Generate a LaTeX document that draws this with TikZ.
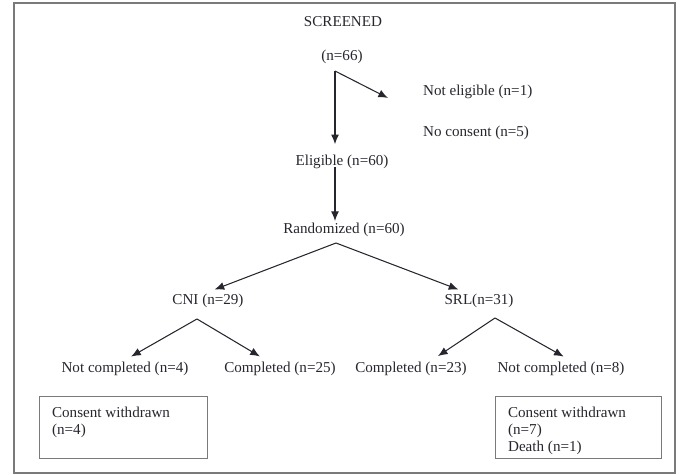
\documentclass[tikz,border=0pt]{standalone}
\usepackage{fontspec}
\setmainfont{Liberation Serif}
\usetikzlibrary{positioning, arrows.meta}
\definecolor{InkDark}  {HTML}{26262E}
\definecolor{FrameGray}{HTML}{7A7A7A}

\tikzset{
  lbl/.style={inner sep=1pt, text=InkDark, font=\fontsize{8.6}{9.6}\selectfont},
  arr/.style={draw=InkDark, line width=0.6pt, -{Latex[length=5.5pt, width=4.5pt]}},
  outbox/.style={draw=FrameGray, line width=0.8pt, minimum width=3.36cm, minimum height=1.24cm, inner sep=0pt}
}

\begin{document}
\begin{tikzpicture}[x=0.02cm, y=-0.02cm]
  \useasboundingbox (0,0) rectangle (680,475);
  \draw[FrameGray, line width=1.1pt] (14,3) rectangle (675,473);

  % screening
  \node[lbl] (scr) at (343,22) {SCREENED};
  \node[lbl] (n66) at (342,57) {(n=66)};
  \coordinate (bend) at (335,71);
  \coordinate (excl) at (388,98);
  \node[lbl, anchor=west] (nelig) at (421,92) {Not eligible (n=1)};
  \node[lbl, anchor=west] (ncons) at (421,133) {No consent (n=5)};
  \node[lbl] (elig) at (342,162) {Eligible (n=60)};
  \node[lbl] (rand) at (344,230) {Randomized (n=60)};

  \draw[arr] (bend) -- (excl);
  \draw[arr, shorten >=5pt] (bend) -- (bend |- elig.north);
  \draw[arr] (elig.south -| bend) ++(0,-4) -- (bend |- rand.north);

  % arms
  \coordinate (rsplit) at (336,243);
  \node[lbl] (cni) at (208,301) {CNI (n=29)};
  \node[lbl] (srl) at (479,301) {SRL(n=31)};
  \draw[arr, shorten >=4pt] (rsplit) -- (cni.north);
  \draw[arr, shorten >=4pt] (rsplit) -- ([xshift=-8pt]srl.north);

  % follow-up
  \coordinate (csplit) at (197,319);
  \coordinate (ssplit) at (495,318);
  \node[lbl] (cnot)  at (125,369) {Not completed (n=4)};
  \node[lbl] (ccomp) at (280,369) {Completed (n=25)};
  \node[lbl] (scomp) at (411,369) {Completed (n=23)};
  \node[lbl] (snot)  at (561,369) {Not completed (n=8)};
  \draw[arr, shorten >=4pt] (csplit) -- (cnot.north);
  \draw[arr, shorten >=4pt] (csplit) -- ([xshift=-8pt]ccomp.north);
  \draw[arr, shorten >=4pt] (ssplit) -- ([xshift=12pt]scomp.north);
  \draw[arr, shorten >=4pt] (ssplit) -- ([xshift=5pt]snot.north);

  % reasons
  \node[outbox, anchor=north west] (cbox) at (39,396) {};
  \node[outbox, anchor=north west, minimum width=3.32cm] (sbox) at (495,396) {};
  \node[lbl, anchor=north west, align=left] (ctxt) at (50,405) {Consent withdrawn\\(n=4)};
  \node[lbl, anchor=north west, align=left] (stxt) at (506,405) {Consent withdrawn\\(n=7)\\Death (n=1)};
\end{tikzpicture}
\end{document}
